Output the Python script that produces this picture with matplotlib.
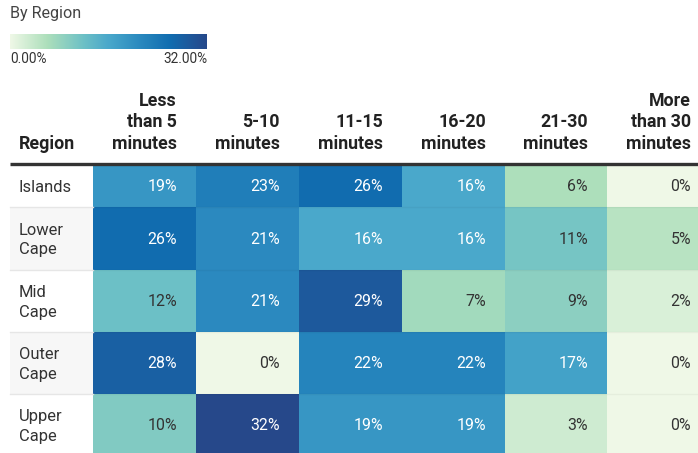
import numpy as np
import matplotlib.pyplot as plt
from matplotlib.colors import LinearSegmentedColormap, Normalize

plt.rcParams['font.family'] = ['Roboto', 'DejaVu Sans']

# data
regions = ['Islands', 'Lower\nCape', 'Mid\nCape', 'Outer\nCape', 'Upper\nCape']
columns = ['Less\nthan 5\nminutes', '5-10\nminutes', '11-15\nminutes',
           '16-20\nminutes', '21-30\nminutes', 'More\nthan 30\nminutes']
islands = [19, 23, 26, 16, 6, 0]
lower_cape = [26, 21, 16, 16, 11, 5]
mid_cape = [12, 21, 29, 7, 9, 2]
outer_cape = [28, 0, 22, 22, 17, 0]
upper_cape = [10, 32, 19, 19, 3, 0]
values = np.array([islands, lower_cape, mid_cape, outer_cape, upper_cape])
vmin, vmax = 0, 32

# colour scale
cmap = LinearSegmentedColormap.from_list('gnbu', [
    (0.0, '#eff8e7'), (0.1875, '#addfbb'), (0.375, '#6cc0c6'),
    (0.5, '#4aa8cb'), (0.656, '#2b8abf'), (0.8125, '#116db0'),
    (0.906, '#1d5a9d'), (1.0, '#26488a')])
norm = Normalize(vmin, vmax)

W, H = 698, 453
fig = plt.figure(figsize=(W / 100, H / 100), dpi=100)
ax = fig.add_axes([0, 0, 1, 1])
ax.set_xlim(0, W)
ax.set_ylim(H, 0)
ax.axis('off')

# layout (pixels)
x_edges = np.array([93, 196, 299, 402, 505, 607, 710])
y_edges = np.array([164, 207, 270, 332, 394, 456])
left = 10
pad = 19

# region column backgrounds
for i in range(len(regions)):
    bg = '#f7f7f7' if i % 2 == 1 else 'white'
    ax.fill_between([left, x_edges[0]], y_edges[i], y_edges[i + 1], color=bg, lw=0)
    if i > 0:
        ax.plot([left, x_edges[0]], [y_edges[i]] * 2, color='#e6e6e6', lw=1)

ax.pcolormesh(x_edges, y_edges, values, cmap=cmap, norm=norm)
for i in range(1, len(regions)):
    ax.plot([x_edges[0], x_edges[-1]], [y_edges[i]] * 2, color='black', alpha=0.04, lw=1)

# cell labels
for i in range(len(regions)):
    yc = (y_edges[i] + y_edges[i + 1]) / 2
    ax.text(19, yc + 1.5, regions[i], ha='left', va='center', fontsize=11.9,
            color='#333333', linespacing=1.36)
    for j in range(len(columns)):
        v = values[i, j]
        tc = 'white' if v >= 14 else '#333333'
        ax.text(x_edges[j + 1] - pad, yc + 1, f'{v}%', ha='right', va='center',
                fontsize=11.4, color=tc)

# header
ax.text(19, 153, 'Region', ha='left', va='bottom', fontsize=12.8,
        fontweight='bold', color='#222222')
for j, c in enumerate(columns):
    ax.text(x_edges[j + 1] - pad, 153, c, ha='right', va='bottom', fontsize=12.8,
            fontweight='bold', color='#222222', multialignment='right',
            linespacing=1.26)
ax.plot([left, W], [164, 164], color='#333333', lw=2.4, solid_capstyle='butt')

# legend
ax.text(10, 13.5, 'By Region', ha='left', va='center', fontsize=11.6, color='#444444')
cax = fig.add_axes([10 / W, 1 - 49 / H, 197 / W, 15 / H])
cax.imshow(np.linspace(vmin, vmax, 256)[None, :], cmap=cmap, norm=norm,
           aspect='auto', extent=[vmin, vmax, 0, 1])
cax.set_xticks([])
cax.set_yticks([])
for s in cax.spines.values():
    s.set_visible(False)
ax.text(10, 59, f'{vmin:.2f}%', ha='left', va='center', fontsize=9.8, color='#333333')
ax.text(207, 59, f'{vmax:.2f}%', ha='right', va='center', fontsize=9.8, color='#333333')

fig.savefig('out.png', dpi=100)
